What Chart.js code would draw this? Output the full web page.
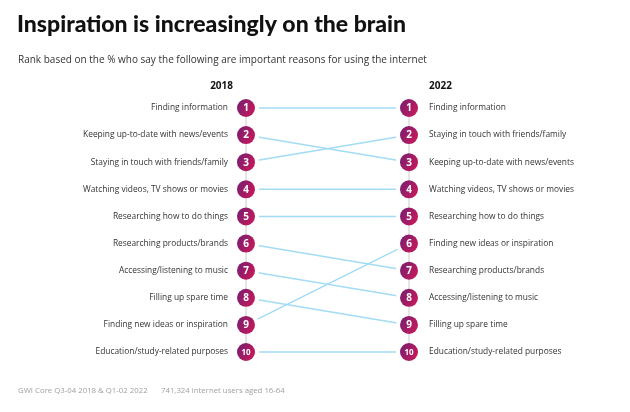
<!DOCTYPE html>
<html>
<head>
<meta charset="utf-8">
<script src="https://cdn.jsdelivr.net/npm/chart.js@4.4.1/dist/chart.umd.min.js"></script>
<style>
  html, body { margin: 0; padding: 0; background: #ffffff; }
  #wrap { position: relative; width: 630px; height: 412px; }
</style>
</head>
<body>
<div id="wrap"><canvas id="c" width="630" height="412"></canvas></div>
<script>
// ---- data ----
const titleText = "Inspiration is increasingly on the brain";
const subtitleText = "Rank based on the % who say the following are important reasons for using the internet";
const yearLabels = ["2018", "2022"];
const ranks = [1, 2, 3, 4, 5, 6, 7, 8, 9, 10];
const labels2018 = ["Finding information", "Keeping up-to-date with news/events", "Staying in touch with friends/family", "Watching videos, TV shows or movies", "Researching how to do things", "Researching products/brands", "Accessing/listening to music", "Filling up spare time", "Finding new ideas or inspiration", "Education/study-related purposes"];
const labels2022 = ["Finding information", "Staying in touch with friends/family", "Keeping up-to-date with news/events", "Watching videos, TV shows or movies", "Researching how to do things", "Finding new ideas or inspiration", "Researching products/brands", "Accessing/listening to music", "Filling up spare time", "Education/study-related purposes"];
// rank of each 2018 item (in 2018 order) in 2018 and in 2022
const rank2018 = [1, 2, 3, 4, 5, 6, 7, 8, 9, 10];
const rank2022 = [1, 3, 2, 4, 5, 7, 8, 9, 6, 10];
const sourceText = "GWI Core Q3-04 2018 & Q1-02 2022";
const sampleText = "741,324 internet users aged 16-64";

// ---- styling ----
const FONT = "'Open Sans', sans-serif";
const LEFT_X = 246, RIGHT_X = 409, TOP_Y = 108, BOTTOM_Y = 352, W = 630, H = 412;

const slopeSets = rank2018.map((r, i) => ({
  type: 'line',
  data: [{x: 0, y: r}, {x: 1, y: rank2022[i]}],
  borderColor: '#a3dcf4',
  borderWidth: 1.5,
  pointRadius: 0,
  clip: false,
  order: 10
}));

const haloSet = {
  type: 'scatter',
  data: ranks.map(r => ({x: 0, y: r})).concat(ranks.map(r => ({x: 1, y: r}))),
  pointRadius: 13,
  pointBackgroundColor: '#ffffff',
  pointBorderWidth: 0,
  clip: false,
  order: 5
};

const connectorSets = [0, 1].map(xv => ({
  type: 'line',
  data: [{x: xv, y: ranks[0]}, {x: xv, y: ranks[ranks.length - 1]}],
  borderColor: '#dddddd',
  borderWidth: 1.5,
  pointRadius: 0,
  clip: false,
  order: 3
}));

function circleFill(ctx) {
  const chart = ctx.chart;
  if (!chart.chartArea || !ctx.raw) return '#a01b66';
  const px = chart.scales.x.getPixelForValue(ctx.raw.x);
  const py = chart.scales.y.getPixelForValue(ctx.raw.y);
  const g = chart.ctx.createLinearGradient(px - 9, py - 5, px + 9, py + 5);
  g.addColorStop(0, '#7a1e70');
  g.addColorStop(1, '#c9195a');
  return g;
}

const circleSet = {
  type: 'scatter',
  data: ranks.map(r => ({x: 0, y: r})).concat(ranks.map(r => ({x: 1, y: r}))),
  pointRadius: 9,
  pointHoverRadius: 9,
  pointBackgroundColor: circleFill,
  pointBorderWidth: 0,
  clip: false,
  order: 1
};

const textPlugin = {
  id: 'texts',
  afterDatasetsDraw(chart) {
    const ctx = chart.ctx;
    const meta = chart.getDatasetMeta(chart.data.datasets.indexOf(circleSet));
    ctx.save();
    ctx.fillStyle = '#ffffff';
    ctx.textAlign = 'center';
    ctx.textBaseline = 'middle';
    meta.data.forEach((pt, i) => {
      const r = circleSet.data[i].y;
      ctx.font = "bold " + (r >= 10 ? 8 : 10) + "px " + FONT;
      ctx.fillText(String(r), pt.x, pt.y + 0.5);
    });
    ctx.restore();
  },
  afterDraw(chart) {
    const ctx = chart.ctx;
    ctx.save();
    ctx.textBaseline = 'middle';
    ctx.fillStyle = '#111111';
    ctx.textAlign = 'left';
    ctx.font = "900 23px Lato, sans-serif";
    ctx.fillText(titleText, 17, 25);
    ctx.fillStyle = '#333333';
    ctx.font = "10px " + FONT;
    ctx.fillText(subtitleText, 18, 60);
    ctx.fillStyle = '#111111';
    ctx.font = "bold 10px " + FONT;
    const xs = chart.scales.x;
    ctx.textAlign = 'right';
    ctx.fillText(yearLabels[0], xs.getPixelForValue(0) - 13, 86);
    ctx.textAlign = 'left';
    ctx.fillText(yearLabels[1], xs.getPixelForValue(1) + 20, 86);
    ctx.fillStyle = '#a0a0a0';
    ctx.font = "7.8px " + FONT;
    ctx.fillText(sourceText, 18, 391);
    ctx.fillText(sampleText, 161, 391);
    ctx.restore();
  }
};

new Chart(document.getElementById('c'), {
  type: 'scatter',
  data: { datasets: [...slopeSets, haloSet, ...connectorSets, circleSet] },
  options: {
    responsive: false,
    animation: false,
    events: [],
    layout: { padding: { top: TOP_Y, bottom: H - BOTTOM_Y, left: 0, right: 0 } },
    plugins: { legend: { display: false }, tooltip: { enabled: false }, title: { display: false } },
    scales: {
      x: { type: 'linear', min: 0, max: 1, display: false },
      y: {
        type: 'linear', position: 'left', reverse: true, min: 1, max: 10,
        grid: { display: false, drawTicks: false }, border: { display: false },
        afterBuildTicks: s => { s.ticks = ranks.map(v => ({value: v})); },
        afterFit: s => { s.width = LEFT_X; },
        ticks: { padding: 18, color: '#333333', font: { family: FONT, size: 8.4 }, callback: v => labels2018[v - 1], autoSkip: false }
      },
      y2: {
        type: 'linear', position: 'right', reverse: true, min: 1, max: 10,
        grid: { display: false, drawTicks: false }, border: { display: false },
        afterBuildTicks: s => { s.ticks = ranks.map(v => ({value: v})); },
        afterFit: s => { s.width = W - RIGHT_X; },
        ticks: { padding: 20, color: '#333333', font: { family: FONT, size: 8.4 }, callback: v => labels2022[v - 1], autoSkip: false }
      }
    }
  },
  plugins: [textPlugin]
});
</script>
</body>
</html>
